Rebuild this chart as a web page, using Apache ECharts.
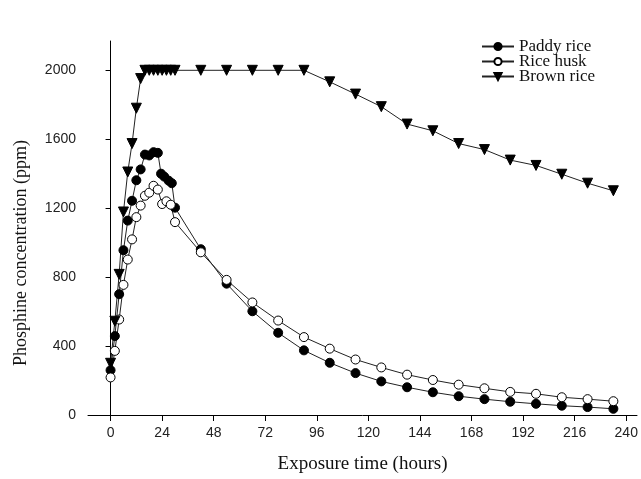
<!DOCTYPE html>
<html>
<head>
<meta charset="utf-8">
<script src="https://cdn.jsdelivr.net/npm/echarts@6/dist/echarts.min.js"></script>
<style>
  html, body { margin: 0; padding: 0; background: #fff; }
  #main { width: 641px; height: 479px; }
</style>
</head>
<body>
<div id="main"></div>
<script>
// sampling times (hours)
var timesEarly = [0, 2, 4, 6, 8, 10, 12, 14, 16, 18, 20, 22, 24, 26, 28, 30];
var timesLate = [42, 54, 66, 78, 90, 102, 114, 126, 138, 150, 162, 174, 186, 198, 210, 222, 234];
var paddyTimesEarly = [0, 2, 4, 6, 8, 10, 12, 14, 16, 18, 20, 22, 23.5, 25, 27, 28.5, 30];

// phosphine concentration (ppm)
var paddyEarly = [260, 458, 701, 956, 1128, 1243, 1362, 1425, 1511, 1506, 1525, 1521, 1400, 1383, 1360, 1345, 1203];
var paddyLate = [962, 762, 602, 477, 375, 303, 243, 195, 161, 132, 109, 92, 77, 65, 54, 46, 36];
var huskEarly = [218, 372, 554, 755, 902, 1019, 1148, 1215, 1272, 1290, 1330, 1308, 1224, 1240, 1220, 1119];
var huskLate = [944, 784, 653, 548, 452, 385, 322, 276, 234, 203, 176, 155, 134, 123, 103, 92, 80];
var brownEarly = [300, 544, 816, 1178, 1410, 1575, 1780, 1952, 2000, 2000, 2000, 2000, 2000, 2000, 2000, 2000];
var brownLate = [2000, 2000, 2000, 2000, 2000, 1933, 1862, 1789, 1688, 1649, 1575, 1540, 1479, 1448, 1397, 1345, 1301];

var xTicks = [0, 24, 48, 72, 96, 120, 144, 168, 192, 216, 240];
var yTicks = [0, 400, 800, 1200, 1600, 2000];

function pairs(t, v) {
  var out = [];
  for (var i = 0; i < t.length; i++) out.push([t[i], v[i]]);
  return out;
}

var paddy = pairs(paddyTimesEarly.concat(timesLate), paddyEarly.concat(paddyLate));
var husk = pairs(timesEarly.concat(timesLate), huskEarly.concat(huskLate));
var brown = pairs(timesEarly.concat(timesLate), brownEarly.concat(brownLate));

var myChart = echarts.init(document.getElementById('main'));
var lineStyle = { color: '#222', width: 1 };
var option = {
  animation: false,
  backgroundColor: '#fff',
  grid: { left: 88, right: 4, top: 41, bottom: 61 },
  legend: {
    orient: 'vertical',
    left: 476,
    top: 33,
    itemWidth: 32,
    itemHeight: 9,
    itemGap: -2,
    textStyle: { fontFamily: 'Liberation Serif', fontSize: 17, color: '#111' },
    data: ['Paddy rice', 'Rice husk', 'Brown rice']
  },
  xAxis: {
    type: 'value',
    min: -10.5,
    max: 245,
    name: 'Exposure time (hours)',
    nameLocation: 'middle',
    nameGap: 40,
    nameTextStyle: { fontFamily: 'Liberation Serif', fontSize: 19, color: '#111' },
    axisLine: { lineStyle: { color: '#000', width: 1 } },
    axisTick: { customValues: xTicks, length: 6, lineStyle: { color: '#000' } },
    axisLabel: { customValues: xTicks, margin: 11, fontFamily: 'Liberation Sans', fontSize: 14, color: '#222' },
    splitLine: { show: false }
  },
  yAxis: {
    type: 'value',
    min: 0,
    max: 2170,
    name: 'Phosphine concentration (ppm)',
    nameLocation: 'middle',
    nameGap: 58,
    nameTextStyle: { fontFamily: 'Liberation Serif', fontSize: 18, color: '#111', padding: [0, 50, 0, 0] },
    axisLine: { show: true, lineStyle: { color: '#000', width: 1 } },
    axisTick: { show: true, customValues: yTicks, length: 5, lineStyle: { color: '#000' } },
    axisLabel: {
      customValues: yTicks, margin: 12, fontFamily: 'Liberation Sans', fontSize: 14, color: '#222',
      formatter: function (v) { return String(v); }
    },
    splitLine: { show: false }
  },
  series: [
    {
      name: 'Paddy rice', type: 'line', data: paddy,
      symbol: 'circle', symbolSize: 9, showAllSymbol: true,
      lineStyle: lineStyle,
      itemStyle: { color: '#000', borderColor: '#000', borderWidth: 1 }
    },
    {
      name: 'Rice husk', type: 'line', data: husk,
      symbol: 'circle', symbolSize: 9, showAllSymbol: true,
      lineStyle: lineStyle,
      itemStyle: { color: '#fff', borderColor: '#000', borderWidth: 1 }
    },
    {
      name: 'Brown rice', type: 'line', data: brown,
      symbol: 'triangle', symbolRotate: 180, symbolSize: 10, showAllSymbol: true,
      lineStyle: lineStyle,
      itemStyle: { color: '#000', borderColor: '#000', borderWidth: 1 }
    }
  ]
};
myChart.setOption(option);
</script>
</body>
</html>
